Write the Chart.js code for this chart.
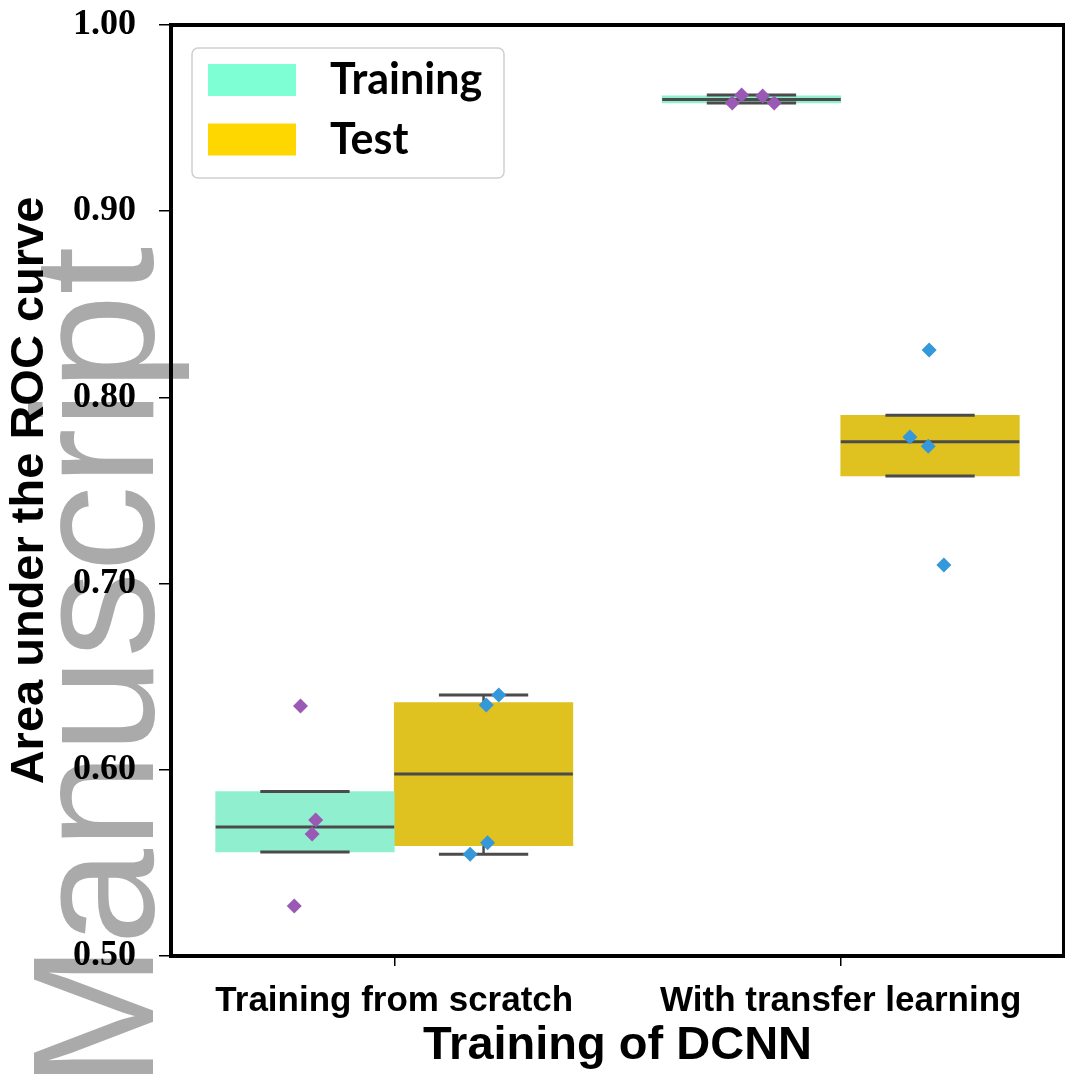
<!DOCTYPE html>
<html>
<head>
<meta charset="utf-8">
<script src="https://cdn.jsdelivr.net/npm/chart.js@4.4.0/dist/chart.umd.min.js"></script>
<style>
  html, body { margin: 0; padding: 0; background: #fff; overflow: hidden; }
  canvas { display: block; }
</style>
</head>
<body>
<canvas id="c" width="1065" height="1080"></canvas>
<script>
// ---- data -------------------------------------------------------------
const categories = ['Training from scratch', 'With transfer learning'];
const seriesNames = ['Training', 'Test'];

// AUC of each cross-validation fold, per category
const trainingAUC = [
  [0.6343, 0.5730, 0.5655, 0.5269],
  [0.9581, 0.9624, 0.9619, 0.9581]
];
const testAUC = [
  [0.6402, 0.6348, 0.5608, 0.5546],
  [0.8255, 0.7787, 0.7737, 0.7100]
];

// horizontal strip-plot offsets of each fold (in category units)
const trainingJitter = [
  [-0.010, 0.024, 0.016, -0.024],
  [-0.043, -0.022, 0.025, 0.051]
];
const testJitter = [
  [0.034, 0.006, 0.009, -0.030],
  [-0.002, -0.045, -0.004, 0.031]
];

const yTicks = [0.50, 0.60, 0.70, 0.80, 0.90, 1.00];

// ---- styling ----------------------------------------------------------
const boxFill = ['#8FEFCF', '#DFC120'];
const legendFill = ['#7FFFD4', '#FFD700'];
const pointColor = ['#9B59B6', '#3498DB'];
const lineGray = '#4B4B4B';
const GROUP_SHARE = 0.8;        // share of a category taken by the two boxes
const BOX_SHIFT = GROUP_SHARE / 4;
const WHIS = 0.5;               // whisker reach, in IQRs

// ---- box statistics ---------------------------------------------------
function quantile(sorted, p) {
  const h = (sorted.length - 1) * p;
  const lo = Math.floor(h), hi = Math.ceil(h);
  return sorted[lo] + (sorted[hi] - sorted[lo]) * (h - lo);
}
function boxStats(values) {
  const s = [...values].sort((a, b) => a - b);
  const q1 = quantile(s, 0.25), med = quantile(s, 0.5), q3 = quantile(s, 0.75);
  const iqr = q3 - q1;
  const low = s.filter(v => v >= q1 - WHIS * iqr);
  const high = s.filter(v => v <= q3 + WHIS * iqr);
  return {
    q1, med, q3,
    lo: low.length ? Math.min(q1, low[0]) : q1,
    hi: high.length ? Math.max(q3, high[high.length - 1]) : q3
  };
}

const trainingStats = trainingAUC.map(boxStats);
const testStats = testAUC.map(boxStats);

function boxBars(stats, side) {
  return stats.map((s, c) => ({ x: c + side * BOX_SHIFT, y: [s.q1, s.q3] }));
}
function stripPoints(values, jitter, side) {
  const pts = [];
  values.forEach((vals, c) => {
    vals.forEach((v, k) => {
      pts.push({ x: c + side * BOX_SHIFT + jitter[c][k], y: v });
    });
  });
  return pts;
}

// ---- plugins ----------------------------------------------------------
const boxLines = {
  id: 'boxLines',
  afterDatasetDraw(chart, args) {
    const ds = chart.data.datasets[args.index];
    if (!ds.boxStats) return;
    const y = chart.scales.y;
    const ctx = chart.ctx;
    ctx.save();
    ctx.strokeStyle = lineGray;
    ctx.lineCap = 'butt';
    args.meta.data.forEach((bar, i) => {
      const st = ds.boxStats[i];
      const x = bar.x, w = bar.width;
      const seg = (x0, y0, x1, y1, lw) => {
        ctx.lineWidth = lw;
        ctx.beginPath(); ctx.moveTo(x0, y0); ctx.lineTo(x1, y1); ctx.stroke();
      };
      // whiskers
      seg(x, y.getPixelForValue(st.q3), x, y.getPixelForValue(st.hi), 2.5);
      seg(x, y.getPixelForValue(st.q1), x, y.getPixelForValue(st.lo), 2.5);
      // caps
      seg(x - w / 4, y.getPixelForValue(st.hi), x + w / 4, y.getPixelForValue(st.hi), 3);
      seg(x - w / 4, y.getPixelForValue(st.lo), x + w / 4, y.getPixelForValue(st.lo), 3);
      // median
      seg(x - w / 2, y.getPixelForValue(st.med), x + w / 2, y.getPixelForValue(st.med), 3);
    });
    ctx.restore();
  }
};

const backdrop = {
  id: 'backdrop',
  beforeDraw(chart) {
    const ctx = chart.ctx;
    ctx.save();
    ctx.fillStyle = '#ffffff';
    ctx.fillRect(0, 0, chart.width, chart.height);
    // vertical watermark along the left margin
    ctx.translate(153, 1088);
    ctx.rotate(-Math.PI / 2);
    ctx.fillStyle = '#AAAAAA';
    ctx.font = '172px "Liberation Sans", Arial, sans-serif';
    ctx.textAlign = 'left';
    ctx.textBaseline = 'alphabetic';
    ctx.fillText('Manuscript', 0, 0);
    ctx.restore();
  }
};

const frameAndLegend = {
  id: 'frameAndLegend',
  afterDraw(chart) {
    const ctx = chart.ctx;
    const a = chart.chartArea;
    ctx.save();
    // axes frame
    ctx.strokeStyle = '#000';
    ctx.lineWidth = 4;
    ctx.strokeRect(a.left, a.top, a.right - a.left, a.bottom - a.top);

    // legend
    const bx = 192, by = 48, bw = 312, bh = 130, r = 6;
    ctx.beginPath();
    ctx.moveTo(bx + r, by);
    ctx.arcTo(bx + bw, by, bx + bw, by + bh, r);
    ctx.arcTo(bx + bw, by + bh, bx, by + bh, r);
    ctx.arcTo(bx, by + bh, bx, by, r);
    ctx.arcTo(bx, by, bx + bw, by, r);
    ctx.closePath();
    ctx.fillStyle = 'rgba(255,255,255,0.8)';
    ctx.fill();
    ctx.strokeStyle = '#D0D0D0';
    ctx.lineWidth = 1.5;
    ctx.stroke();

    ctx.font = 'bold 43px Lato, "Liberation Sans", sans-serif';
    ctx.textAlign = 'left';
    ctx.textBaseline = 'alphabetic';
    seriesNames.forEach((name, i) => {
      const top = 64 + i * 59.5;
      ctx.fillStyle = legendFill[i];
      ctx.fillRect(208, top, 88, 32);
      ctx.fillStyle = '#000';
      ctx.fillText(name, 330, top + 30);
    });
    ctx.restore();
  }
};

// ---- chart ------------------------------------------------------------
const tickFontX = { family: '"Liberation Sans", Arial, sans-serif', weight: 'bold', size: 35 };
const tickFontY = { family: '"Liberation Serif", "Times New Roman", serif', weight: 'bold', size: 36 };
const titleFont = { family: '"Liberation Sans", Arial, sans-serif', weight: 'bold', size: 47 };

new Chart(document.getElementById('c'), {
  type: 'bar',
  data: {
    labels: categories,
    datasets: [
      {
        label: seriesNames[0],
        data: boxBars(trainingStats, -1),
        boxStats: trainingStats,
        xAxisID: 'xs',
        backgroundColor: boxFill[0],
        borderWidth: 0,
        grouped: false,
        categoryPercentage: 1.0,
        barPercentage: 1.0,
        order: 2
      },
      {
        label: seriesNames[1],
        data: boxBars(testStats, 1),
        boxStats: testStats,
        xAxisID: 'xs',
        backgroundColor: boxFill[1],
        borderWidth: 0,
        grouped: false,
        categoryPercentage: 1.0,
        barPercentage: 1.0,
        order: 2
      },
      {
        type: 'scatter',
        label: seriesNames[0] + ' folds',
        data: stripPoints(trainingAUC, trainingJitter, -1),
        xAxisID: 'xs',
        pointStyle: 'rectRot',
        pointRadius: 7.5,
        backgroundColor: pointColor[0],
        borderWidth: 0,
        order: 1
      },
      {
        type: 'scatter',
        label: seriesNames[1] + ' folds',
        data: stripPoints(testAUC, testJitter, 1),
        xAxisID: 'xs',
        pointStyle: 'rectRot',
        pointRadius: 7.5,
        backgroundColor: pointColor[1],
        borderWidth: 0,
        order: 1
      }
    ]
  },
  options: {
    responsive: false,
    devicePixelRatio: 1,
    animation: false,
    layout: { autoPadding: false, padding: { left: 0, right: 1, top: 25, bottom: 0 } },
    plugins: { legend: { display: false }, tooltip: { enabled: false } },
    scales: {
      x: {
        type: 'category',
        offset: true,
        grid: {
          display: true, drawOnChartArea: false, drawTicks: true,
          tickLength: 10, offset: false, color: '#000', lineWidth: 1.5
        },
        border: { display: false },
        ticks: { color: '#000', font: tickFontX, padding: 14, maxRotation: 0, autoSkip: false },
        title: { display: true, text: 'Training of DCNN', color: '#000', font: titleFont, padding: { top: 0, bottom: 6 } },
        afterFit(scale) { scale.height = 124; scale.paddingLeft = 0; scale.paddingRight = 0; }
      },
      xs: {
        type: 'linear',
        display: false,
        offset: false,
        min: -0.5,
        max: categories.length - 0.5,
        afterBuildTicks(scale) { scale.ticks = categories.map((_, i) => ({ value: i })); }
      },
      y: {
        type: 'linear',
        min: yTicks[0],
        max: yTicks[yTicks.length - 1],
        beginAtZero: false,
        afterBuildTicks(scale) { scale.ticks = yTicks.map(v => ({ value: v })); },
        grid: {
          display: true, drawOnChartArea: false, drawTicks: true,
          tickLength: 12, color: '#000', lineWidth: 1.5
        },
        border: { display: false },
        ticks: { color: '#000', font: tickFontY, padding: 23, callback: v => Number(v).toFixed(2) },
        title: { display: true, text: 'Area under the ROC curve', color: '#000', font: titleFont, padding: { top: 2, bottom: 0 } },
        afterFit(scale) { scale.width = 171; scale.paddingTop = 0; scale.paddingBottom = 0; }
      }
    }
  },
  plugins: [backdrop, boxLines, frameAndLegend]
});
</script>
</body>
</html>
